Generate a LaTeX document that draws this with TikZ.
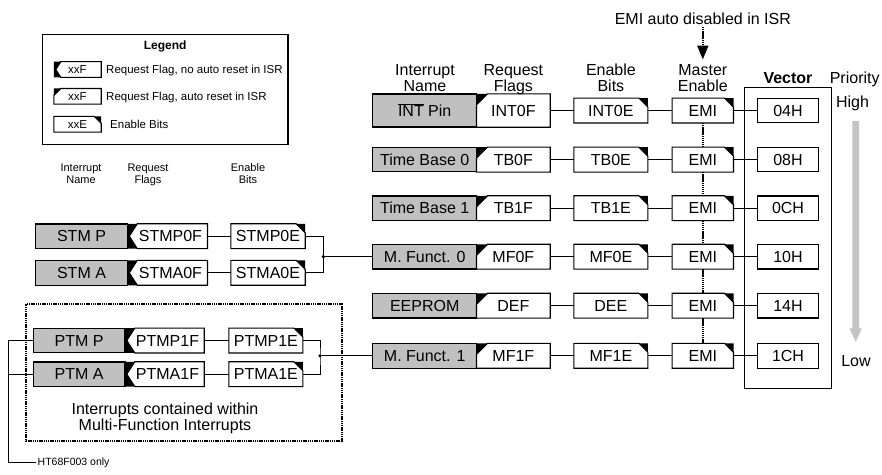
\documentclass[tikz,border=0pt]{standalone}
\usepackage{fontspec}
\setmainfont{Liberation Sans}
\usetikzlibrary{calc,arrows.meta}
\definecolor{gfill}{HTML}{C0C0C0}
\definecolor{garrow}{HTML}{C4C4C4}
\newcommand\flagA[2][11]{%
 \fill (#2.north west) -- ($(#2.north west)+(#1,0)$) -- ($(#2.north west)+(0,#1)$) -- cycle;
 \draw[bl] ($(#2.north west)+(#1,0)$) -- (#2.north east) -- (#2.south east) -- (#2.south west) -- ($(#2.north west)+(0,#1)$) -- cycle;}
\newcommand\flagN[2][10]{%
 \fill (#2.north west) -- ($(#2.north west)+(#1,0)$) -- ($(#2.west)+(2,0)$) -- ($(#2.south west)+(#1,0)$) -- (#2.south west) -- cycle;
 \draw[bl] ($(#2.north west)+(#1,0)$) -- (#2.north east) -- (#2.south east) -- ($(#2.south west)+(#1,0)$) -- ($(#2.west)+(2,0)$) -- cycle;}
\newcommand\enbX[2][9]{%
 \fill (#2.north east) -- ($(#2.north east)+(-#1,0)$) -- ($(#2.north east)+(0,#1)$) -- cycle;
 \draw[bl] (#2.north west) -- ($(#2.north east)+(-#1,0)$) -- ($(#2.north east)+(0,#1)$) -- (#2.south east) -- (#2.south west) -- cycle;}
\begin{document}
\begin{tikzpicture}[x=1pt,y=-1pt,
  bl/.style={line width=1.1pt, line join=miter},
  cl/.style={line width=0.8pt},
  T/.style={inner sep=0pt, text height=11.5pt, text depth=0pt, font=\fontsize{16}{16}\selectfont},
  TB/.style={T, font=\fontsize{16}{16}\selectfont\bfseries},
  Ts/.style={inner sep=0pt, text height=7.9pt, text depth=0pt, font=\fontsize{11}{11}\selectfont},
  Tl/.style={inner sep=0pt, text height=8.2pt, text depth=0pt, font=\fontsize{11.5}{11.5}\selectfont},
  Tt/.style={inner sep=0pt, text height=7.5pt, text depth=0pt, font=\fontsize{10.5}{10.5}\selectfont},
  bx/.style={T, minimum height=24.5pt},
  gbox/.style={bx, draw, bl, fill=gfill},
  plain/.style={bx, draw, bl},
  shp/.style={bx, draw=none},
  lbox/.style={Tl, minimum height=15.3pt, minimum width=47pt, font=\fontsize{11.5}{11.5}\selectfont},
  dotl/.style={line width=1.8pt, dash pattern=on 1.4pt off 0.7pt},
  dotbox/.style={line width=2pt, dash pattern=on 1.4pt off 0.8pt},
  jdot/.style={circle, fill, inner sep=0pt, minimum size=3.6pt}
]
\useasboundingbox (0,0) rectangle (882,474);

% ---------- Legend ----------
\node[draw, bl, minimum width=245.7pt, minimum height=109.7pt, inner sep=0pt] (legend) at (165.15,89.2) {};
\node[Tl, font=\fontsize{12}{12}\selectfont\bfseries] (legtitle) at (165.15,45.5) {Legend};
\node[lbox] (lg1) at (77.5,69.5) {xxF};
\flagN[7]{lg1}
\node[lbox] (lg2) at (77.5,96.3) {xxF};
\flagA[7]{lg2}
\node[lbox] (lg3) at (77.5,124.2) {xxE};
\enbX[7]{lg3}
\node[Tl, anchor=west] (lt1) at (106,69.5) {Request Flag, no auto reset in ISR};
\node[Tl, anchor=west] (lt2) at (106,96.3) {Request Flag, auto reset in ISR};
\node[Tl, anchor=west] (lt3) at (110,124.2) {Enable Bits};

% ---------- left headers ----------
\node[Ts] (lh1a) at (81,167.5) {Interrupt};
\node[Ts] (lh1b) at (81,179.5) {Name};
\node[Ts] (lh2a) at (148,167.5) {Request};
\node[Ts] (lh2b) at (148,179.5) {Flags};
\node[Ts] (lh3a) at (248,167.5) {Enable};
\node[Ts] (lh3b) at (248,179.5) {Bits};

% ---------- right headers ----------
\node[T] (h1a) at (425,70) {Interrupt};
\node[T] (h1b) at (425,86) {Name};
\node[T] (h2a) at (513.4,70) {Request};
\node[T] (h2b) at (513.4,86) {Flags};
\node[T] (h3a) at (610.9,70) {Enable};
\node[T] (h3b) at (610.9,86) {Bits};
\node[T] (h4a) at (702.8,70) {Master};
\node[T] (h4b) at (702.8,85.5) {Enable};
\node[TB] (hvec) at (788,78) {Vector};
\node[T] (hpri) at (854.7,78) {Priority};
\node[T] (hhigh) at (852.5,101.7) {High};
\node[T] (hlow) at (856,360.7) {Low};

% EMI auto disabled arrow
\node[T] (emitxt) at (702.8,19) {EMI auto disabled in ISR};
\coordinate (arrtip) at (702.8,59.5);
\draw[dotl, -{Triangle[width=11pt,length=14pt]}] ([yshift=-2pt]emitxt.south) -- (arrtip);

% Vector big box
\node[draw, bl, minimum width=87pt, minimum height=300.6pt, inner sep=0pt] (vecbox) at (787.8,238) {};

% priority arrow
\fill[garrow] (852.3,121) -- (859,121) -- (859,328.3) -- (861.9,328.3) -- (855.7,341.8) -- (849.4,328.3) -- (852.3,328.3) -- cycle;

% ---------- right rows ----------
\node[gbox, minimum width=104pt, minimum height=33pt] (g1) at (424.7,110.5) {$\overline{\mbox{INT}}$ Pin};
\node[shp, minimum width=73.3pt, minimum height=33pt] (f1) at (513.35,110.5) {INT0F};
\flagA{f1}
\foreach \i/\y/\g/\f in {2/159.6/Time Base 0/TB0F, 3/208.2/Time Base 1/TB1F, 4/256.7/M. Funct. 0/MF0F, 5/305.7/EEPROM/DEF, 6/355.8/M. Funct. 1/MF1F}{
  \node[gbox, minimum width=104pt] (g\i) at (424.7,\y) {\g};
  \node[shp, minimum width=73.3pt] (f\i) at (513.35,\y) {\f};
  \flagA{f\i}
}
\foreach \i/\y/\e/\v in {1/110.5/INT0E/04H, 2/159.6/TB0E/08H, 3/208.2/TB1E/0CH, 4/256.7/MF0E/10H, 5/305.7/DEE/14H, 6/355.8/MF1E/1CH}{
  \node[shp, minimum width=73.7pt] (e\i) at (610.85,\y) {\e};
  \enbX{e\i}
  \node[shp, minimum width=61pt] (m\i) at (702.8,\y) {EMI};
  \enbX{m\i}
  \node[plain, minimum width=60.6pt] (v\i) at (788,\y) {\v};
  \draw[cl] (f\i.east) -- (e\i.west);
  \draw[cl] (e\i.east) -- (m\i.west);
  \draw[cl] (m\i.east) -- (v\i.west);
}
\foreach \a/\b in {1/2,2/3,3/4,4/5,5/6}{
  \draw[dotl] (m\a.south) -- (m\b.north);
}

% ---------- STM rows ----------
\node[gbox, minimum width=92pt] (stmpg) at (81.5,236.2) {STM P};
\node[shp, minimum width=79.8pt] (stmpf) at (167.4,236.2) {\hspace*{6pt}STMP0F};
\flagN{stmpf}
\node[shp, minimum width=74pt] (stmpe) at (268,236.2) {STMP0E};
\enbX{stmpe}
\node[gbox, minimum width=92pt] (stmag) at (81.5,272.8) {STM A};
\node[shp, minimum width=79.8pt] (stmaf) at (167.4,272.8) {\hspace*{6pt}STMA0F};
\flagN{stmaf}
\node[shp, minimum width=74pt] (stmae) at (268,272.8) {STMA0E};
\enbX{stmae}
\draw[cl] (stmpf.east) -- (stmpe.west);
\draw[cl] (stmaf.east) -- (stmae.west);
\coordinate (jS) at (323.3,256.7);
\draw[cl] (stmpe.east) -| (jS) |- (stmae.east);
\draw[cl] (jS) -- (g4.west);
\node[jdot] (jSd) at (jS) {};

% ---------- PTM rows ----------
\draw[dotbox] (26,304.3) rectangle (341.7,440.7);
\node[gbox, minimum width=91.7pt] (ptmpg) at (79.15,340.5) {PTM P};
\node[shp, minimum width=79pt] (ptmpf) at (164.5,340.5) {\hspace*{6pt}PTMP1F};
\flagN{ptmpf}
\node[shp, minimum width=73.7pt] (ptmpe) at (265.85,340.5) {PTMP1E};
\enbX{ptmpe}
\node[gbox, minimum width=91.7pt] (ptmag) at (79.15,374.2) {PTM A};
\node[shp, minimum width=79pt] (ptmaf) at (164.5,374.2) {\hspace*{6pt}PTMA1F};
\flagN{ptmaf}
\node[shp, minimum width=73.7pt] (ptmae) at (265.85,374.2) {PTMA1E};
\enbX{ptmae}
\draw[cl] (ptmpf.east) -- (ptmpe.west);
\draw[cl] (ptmaf.east) -- (ptmae.west);
\coordinate (jP) at (320,355.8);
\draw[cl] (ptmpe.east) -| (jP) |- (ptmae.east);
\draw[cl] (jP) -- (g6.west);
\node[jdot] (jPd) at (jP) {};

\node[T] (mf1) at (165,408.3) {Interrupts contained within};
\node[T] (mf2) at (165,425) {Multi-Function Interrupts};

% HT68F003 bracket
\node[Tt, anchor=west] (htn) at (37.5,462) {HT68F003 only};
\coordinate (bx) at (8.3,462);
\draw[cl] (ptmpg.west) -- (ptmpg.west -| bx) -- (bx) -- ([xshift=-2pt]htn.west);
\draw[cl] (ptmag.west) -- (ptmag.west -| bx);
\end{tikzpicture}
\end{document}
